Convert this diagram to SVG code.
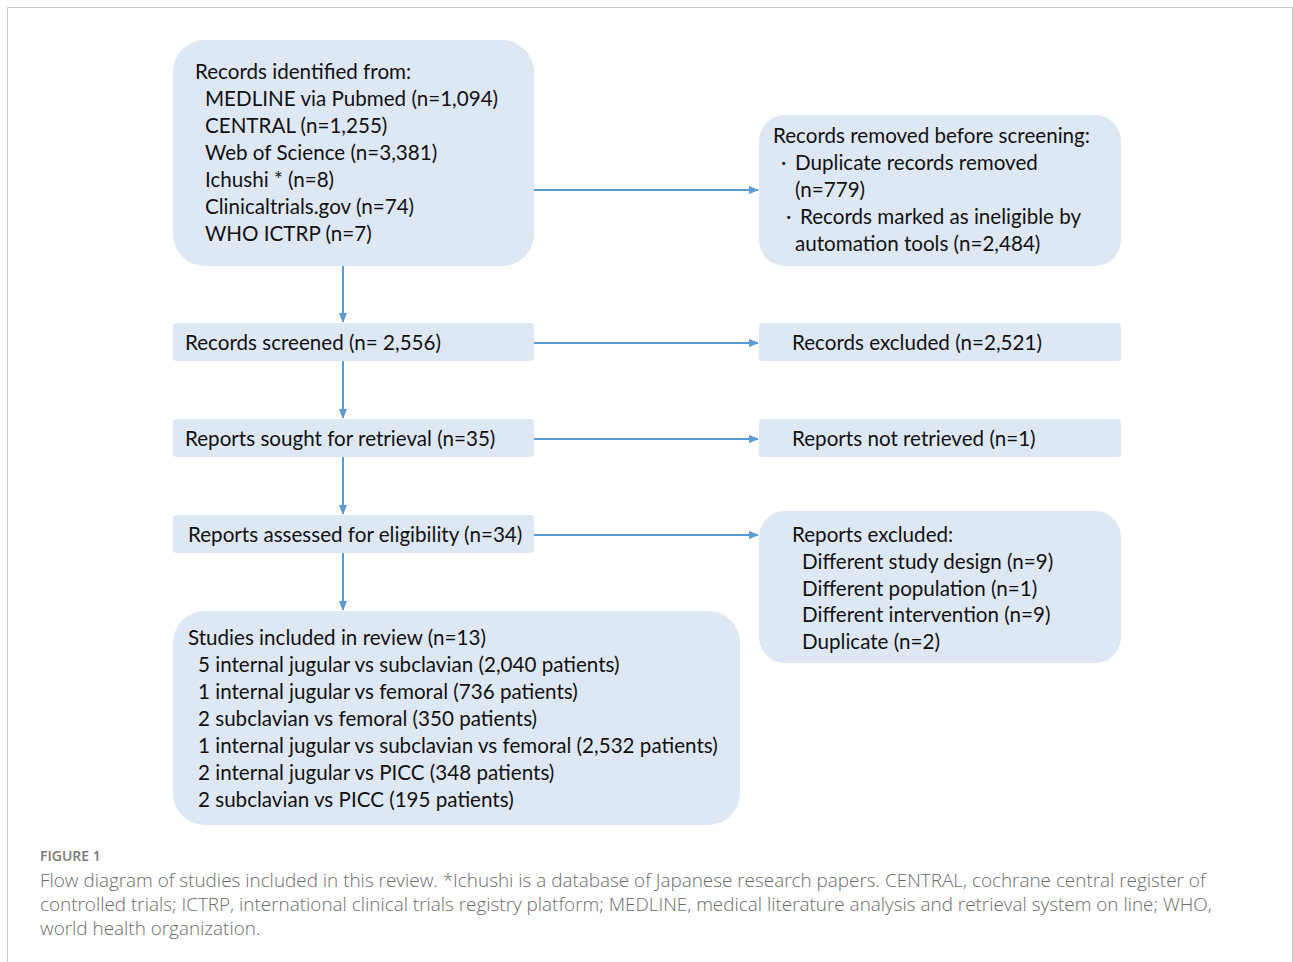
<svg xmlns="http://www.w3.org/2000/svg" width="1293" height="962" viewBox="0 0 1293 962">
<style>
.box{fill:#dee8f4}
.t{font-family:Lato,"Open Sans","Liberation Sans",sans-serif;font-size:20.6px;fill:#111}
.cap{font-family:"Open Sans","Liberation Sans",sans-serif;font-weight:300;font-size:18.9px;fill:#6b6b6b}
.fig{font-family:"Open Sans","Liberation Sans",sans-serif;font-weight:600;font-size:14px;fill:#7a7a7a}
.c{stroke:#5b9bd5;stroke-width:2;fill:none;marker-end:url(#ah)}
</style>
<defs>
<marker id="ah" markerWidth="10" markerHeight="8" refX="9" refY="4" orient="auto" markerUnits="userSpaceOnUse">
<path d="M0,0 L10,4 L0,8 z" fill="#5b9bd5"/>
</marker>
</defs>
<rect x="0" y="0" width="1293" height="962" fill="#fff"/>
<path d="M7.5,962 V7.5 H1292.5 V962" fill="none" stroke="#c8c8c8" stroke-width="1"/>
<g id="connectors">
<line class="c" x1="534" y1="190" x2="758" y2="190"/>
<line class="c" x1="534" y1="343" x2="758" y2="343"/>
<line class="c" x1="534" y1="439" x2="758" y2="439"/>
<line class="c" x1="534" y1="535" x2="758" y2="535"/>
<line class="c" x1="343" y1="266" x2="343" y2="322"/>
<line class="c" x1="343" y1="361" x2="343" y2="418"/>
<line class="c" x1="343" y1="457" x2="343" y2="514"/>
<line class="c" x1="343" y1="553" x2="343" y2="610"/>
</g>
<g id="identified">
<rect class="box" x="173" y="40" width="361" height="226" rx="32"/>
<text class="t" x="195" y="79">Records identified from:</text>
<text class="t" x="205" y="106">MEDLINE via Pubmed (n=1,094)</text>
<text class="t" x="205" y="133">CENTRAL (n=1,255)</text>
<text class="t" x="205" y="160">Web of Science (n=3,381)</text>
<text class="t" x="205" y="187">Ichushi * (n=8)</text>
<text class="t" x="205" y="214">Clinicaltrials.gov (n=74)</text>
<text class="t" x="205" y="241">WHO ICTRP (n=7)</text>
</g>
<g id="removed">
<rect class="box" x="759" y="115" width="362" height="151" rx="26"/>
<text class="t" x="773" y="143">Records removed before screening:</text>
<text class="t" x="781" y="170">·</text>
<text class="t" x="795" y="170">Duplicate records removed</text>
<text class="t" x="795" y="197">(n=779)</text>
<text class="t" x="786" y="224">·</text>
<text class="t" x="800" y="224">Records marked as ineligible by</text>
<text class="t" x="795" y="251">automation tools (n=2,484)</text>
</g>
<g id="screened">
<rect class="box" x="173" y="323" width="361" height="38" rx="4"/>
<text class="t" x="185" y="350">Records screened (n= 2,556)</text>
</g>
<g id="excluded">
<rect class="box" x="759" y="323" width="362" height="38" rx="4"/>
<text class="t" x="792" y="350">Records excluded (n=2,521)</text>
</g>
<g id="sought">
<rect class="box" x="173" y="419" width="361" height="38" rx="4"/>
<text class="t" x="185" y="446">Reports sought for retrieval (n=35)</text>
</g>
<g id="notretrieved">
<rect class="box" x="759" y="419" width="362" height="38" rx="4"/>
<text class="t" x="792" y="446">Reports not retrieved (n=1)</text>
</g>
<g id="assessed">
<rect class="box" x="173" y="515" width="361" height="38" rx="4"/>
<text class="t" x="188" y="542">Reports assessed for eligibility (n=34)</text>
</g>
<g id="reportsexcluded">
<rect class="box" x="759" y="511" width="362" height="152" rx="26"/>
<text class="t" x="792" y="542">Reports excluded:</text>
<text class="t" x="802" y="569">Different study design (n=9)</text>
<text class="t" x="802" y="596">Different population (n=1)</text>
<text class="t" x="802" y="622">Different intervention (n=9)</text>
<text class="t" x="802" y="649">Duplicate (n=2)</text>
</g>
<g id="included">
<rect class="box" x="173" y="611" width="567" height="214" rx="32"/>
<text class="t" x="188" y="645">Studies included in review (n=13)</text>
<text class="t" x="198" y="672">5 internal jugular vs subclavian (2,040 patients)</text>
<text class="t" x="198" y="699">1 internal jugular vs femoral (736 patients)</text>
<text class="t" x="198" y="726">2 subclavian vs femoral (350 patients)</text>
<text class="t" x="198" y="753">1 internal jugular vs subclavian vs femoral (2,532 patients)</text>
<text class="t" x="198" y="780">2 internal jugular vs PICC (348 patients)</text>
<text class="t" x="198" y="807">2 subclavian vs PICC (195 patients)</text>
</g>
<g id="caption">
<text class="fig" x="40" y="861">FIGURE 1</text>
<text class="cap" x="40" y="887">Flow diagram of studies included in this review. *Ichushi is a database of Japanese research papers. CENTRAL, cochrane central register of</text>
<text class="cap" x="40" y="911">controlled trials; ICTRP, international clinical trials registry platform; MEDLINE, medical literature analysis and retrieval system on line; WHO,</text>
<text class="cap" x="40" y="935">world health organization.</text>
</g>
</svg>
